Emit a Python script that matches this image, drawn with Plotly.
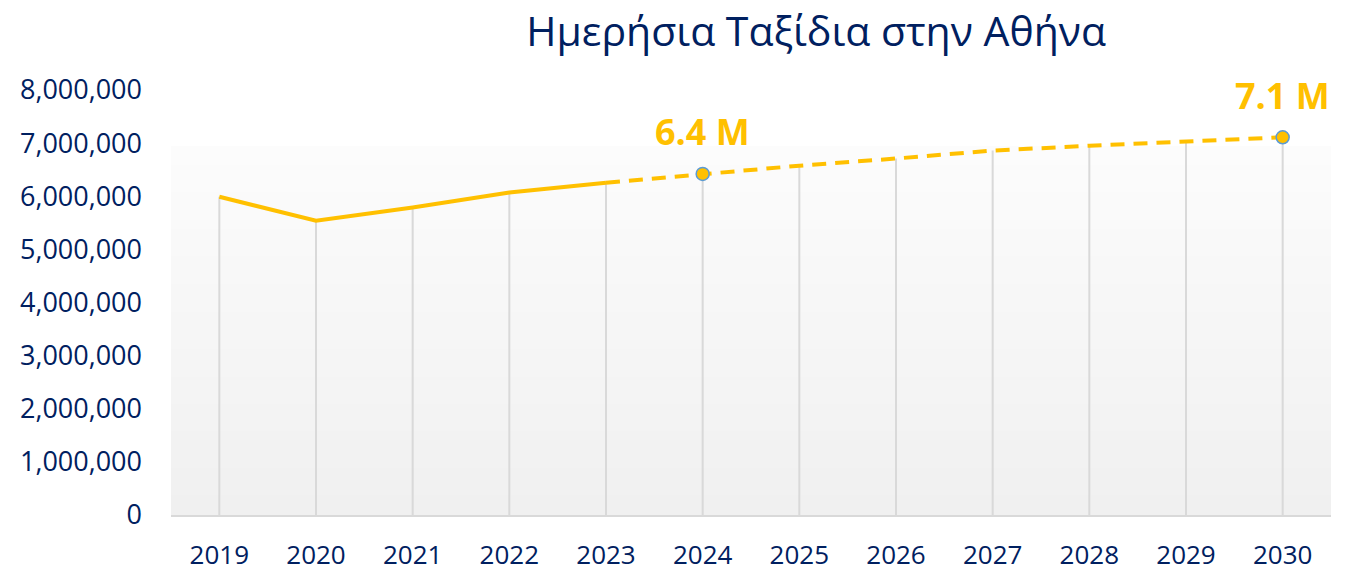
import plotly.graph_objects as go

years = ["2019", "2020", "2021", "2022", "2023", "2024",
         "2025", "2026", "2027", "2028", "2029", "2030"]
actual_years = years[:5]
actual_trips = [5990000, 5540000, 5790000, 6070000, 6255000]
forecast_years = years[4:]
forecast_trips = [6255000, 6420000, 6575000, 6710000, 6860000, 6950000, 7030000, 7110000]
label_years = ["2024", "2030"]
label_trips = [6420000, 7110000]
label_texts = ["6.4 M", "7.1 M"]

all_trips = actual_trips[:-1] + forecast_trips

navy = "#002060"
gold = "#FFC000"
font_name = "Open Sans"

fig = go.Figure()

# drop lines from axis up to each value
drop_x, drop_y = [], []
for yr, v in zip(years, all_trips):
    drop_x += [yr, yr, None]
    drop_y += [0, v, None]
fig.add_trace(go.Scatter(x=drop_x, y=drop_y, mode="lines",
                         line=dict(color="#d9d9d9", width=2),
                         hoverinfo="skip", showlegend=False))

fig.add_trace(go.Scatter(x=actual_years, y=actual_trips, mode="lines",
                         line=dict(color=gold, width=4), showlegend=False))
fig.add_trace(go.Scatter(x=forecast_years, y=forecast_trips, mode="lines",
                         line=dict(color=gold, width=4, dash="14px,9px"),
                         showlegend=False))
fig.add_trace(go.Scatter(x=label_years, y=label_trips, mode="markers",
                         marker=dict(color=gold, size=13,
                                     line=dict(color="#5b9bd5", width=1.5)),
                         showlegend=False))

# category axis: annotations need the category index
annotations = [
    dict(x=years.index(yr), y=v, text=t, showarrow=False, yanchor="middle",
         yshift=42,
         font=dict(family=font_name, size=36, color=gold, weight="bold"))
    for yr, v, t in zip(label_years, label_trips, label_texts)
]

# vertical gradient for plot background
steps = 40
top = 0.866
c0 = (252, 252, 252)
c1 = (240, 240, 240)
shapes = []
for i in range(steps):
    t = i / (steps - 1)
    col = tuple(round(c0[k] + (c1[k] - c0[k]) * t) for k in range(3))
    y1 = top - top * i / steps
    y0 = top - top * (i + 1) / steps
    shapes.append(dict(type="rect", xref="x domain", yref="y domain",
                       x0=0, x1=1, y0=y0, y1=y1 + 0.002, layer="below",
                       line=dict(width=0), fillcolor="rgb(%d,%d,%d)" % col))

fig.update_layout(
    width=1349, height=573,
    paper_bgcolor="white", plot_bgcolor="white",
    margin=dict(l=171, r=18, t=90, b=58),
    font=dict(family=font_name, color=navy),
    title=dict(text="Ημερήσια Ταξίδια στην Αθήνα", x=0.605, xanchor="center",
               y=0.945, yanchor="middle",
               font=dict(family=font_name, size=41, color=navy)),
    shapes=shapes,
    annotations=annotations,
    xaxis=dict(type="category", range=[-0.5, 11.5], showgrid=False,
               showline=True, linecolor="#d9d9d9", linewidth=2,
               ticks="", tickfont=dict(size=26, color=navy),
               ticklabelstandoff=16, zeroline=False, automargin=False),
    yaxis=dict(range=[0, 8000000], dtick=1000000, tickformat=",",
               showgrid=False, zeroline=False, showline=False,
               tickfont=dict(size=27, color=navy), ticklabelstandoff=28,
               automargin=False),
)

fig.write_html("out.html", config={"displayModeBar": False},
               post_script="document.body.style.margin='0';")
